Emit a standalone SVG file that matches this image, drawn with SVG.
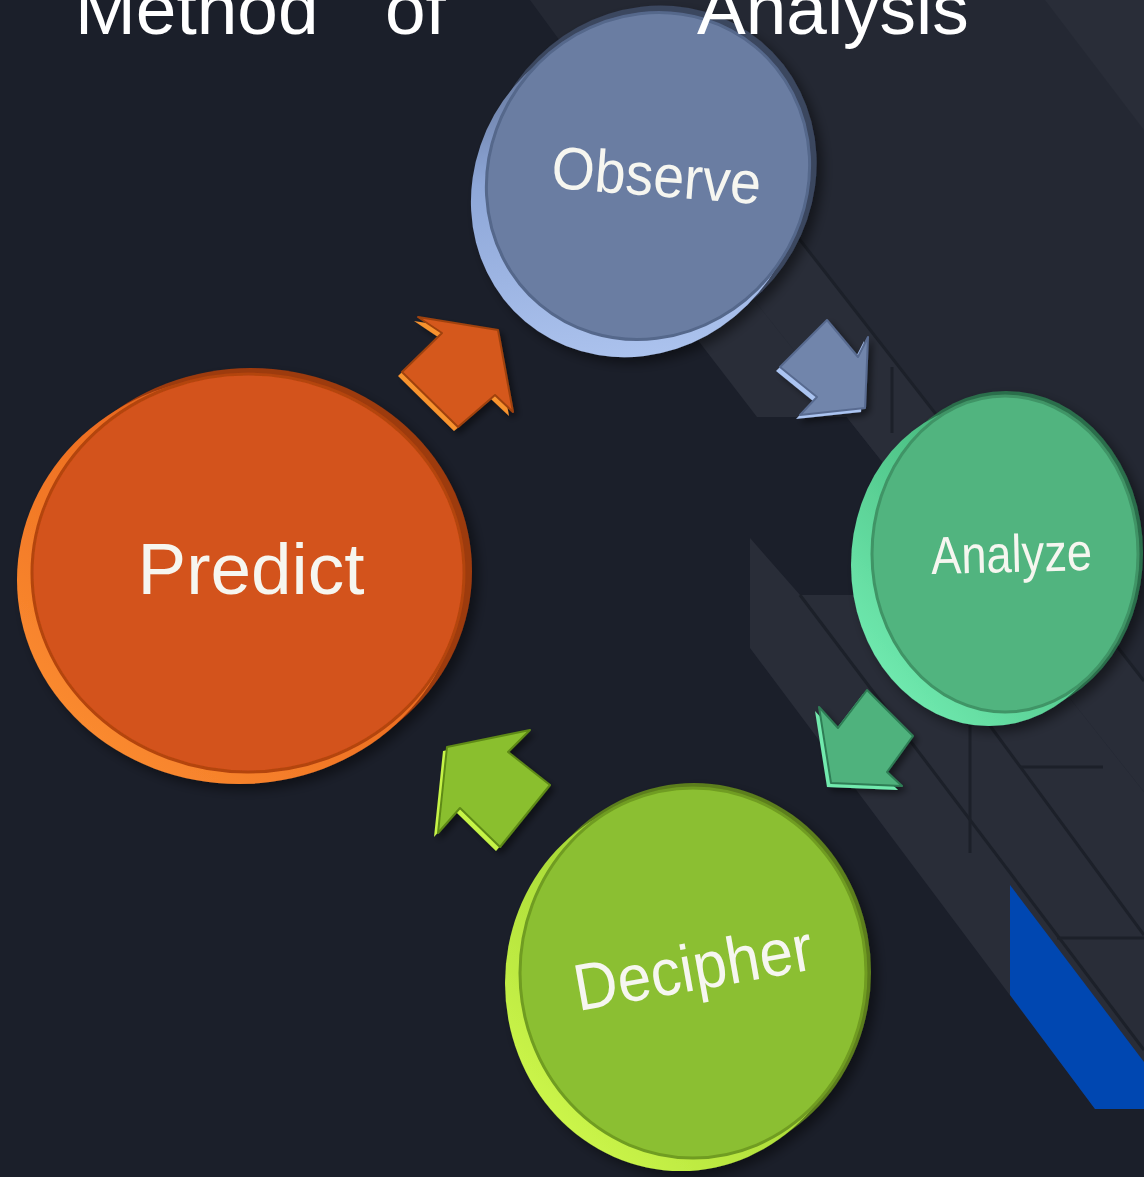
<svg xmlns="http://www.w3.org/2000/svg" width="1144" height="1177" viewBox="0 0 1144 1177">
<style>
  .title{font-family:"Liberation Sans",Arial,sans-serif;font-size:73px;fill:#ffffff}
  .lbl{font-family:"Liberation Sans",Arial,sans-serif;fill:#f6f6f0;text-anchor:middle}
  .seam{stroke:#1c2029;stroke-width:3;fill:none}
  .panel{fill:#292d38}
</style>
<defs>
  <filter id="shadow" x="-20%" y="-20%" width="140%" height="140%">
    <feDropShadow dx="6" dy="6" stdDeviation="6" flood-color="#000" flood-opacity="0.45"/>
  </filter>
  <filter id="ashadow" x="-20%" y="-20%" width="140%" height="140%">
    <feDropShadow dx="4" dy="4" stdDeviation="3" flood-color="#000" flood-opacity="0.45"/>
  </filter>
  <linearGradient id="rimObs" x1="0" y1="1" x2="1" y2="0">
    <stop offset="0" stop-color="#b6ccf5"/><stop offset="0.55" stop-color="#8ea7d8"/><stop offset="1" stop-color="#44506a"/>
  </linearGradient>
  <linearGradient id="rimAna" x1="0" y1="1" x2="1" y2="0">
    <stop offset="0" stop-color="#7af5bb"/><stop offset="0.55" stop-color="#4fc488"/><stop offset="1" stop-color="#2a6e4a"/>
  </linearGradient>
  <linearGradient id="rimDec" x1="0" y1="1" x2="1" y2="0">
    <stop offset="0" stop-color="#d8ff50"/><stop offset="0.55" stop-color="#a6d836"/><stop offset="1" stop-color="#5a7c1a"/>
  </linearGradient>
  <linearGradient id="rimPre" x1="0" y1="1" x2="1" y2="0">
    <stop offset="0" stop-color="#ff9435"/><stop offset="0.55" stop-color="#ec6c20"/><stop offset="1" stop-color="#9a380c"/>
  </linearGradient>
</defs>

<g id="background">
  <rect x="0" y="0" width="1144" height="1177" fill="#1b1f2a"/>
  <polygon points="530,0 1144,0 1144,792 700,232" fill="#242833"/>
  <polygon points="1045,0 1144,0 1144,130" fill="#292d38"/>
  <polygon class="panel" points="740,163 1144,681 1144,792 700,232"/>
  <polygon class="panel" points="667,300 757,417 847,417 754,300"/>
  <polygon class="panel" points="750,538 800,595 988,595 1144,792 1144,1109 1095,1109 750,648"/>
  <line class="seam" x1="740" y1="163" x2="1144" y2="681"/>
  <line class="seam" x1="892" y1="367" x2="892" y2="433"/>
  <line class="seam" x1="800" y1="595" x2="1144" y2="1050"/>
  <line class="seam" x1="970" y1="723" x2="970" y2="853"/>
  <line class="seam" x1="988" y1="723" x2="1144" y2="935"/>
  <line class="seam" x1="1020" y1="767" x2="1103" y2="767"/>
  <line class="seam" x1="1057" y1="938" x2="1144" y2="938"/>
  <polygon points="1010,885 1144,1062 1144,1109 1095,1109 1010,995" fill="#0047b1"/>
</g>

<g id="connectors">
  <g id="arrow-observe-analyze" filter="url(#ashadow)">
    <polygon points="827,320 858,357 868,337 865,408 800,415 817,397 780,367" fill="#abc4f1" transform="translate(-4,4)"/>
    <polygon points="827,320 858,357 868,337 865,408 800,415 817,397 780,367" fill="#7185ab" stroke="#586b90" stroke-width="2" stroke-linejoin="round"/>
  </g>
  <g id="arrow-analyze-decipher" filter="url(#ashadow)">
    <polygon points="867,690 913,736 887,772 902,786 831,783 819,707 838,728" fill="#72eaae" transform="translate(-4,4)"/>
    <polygon points="867,690 913,736 887,772 902,786 831,783 819,707 838,728" fill="#4fb27d" stroke="#2f7d55" stroke-width="2" stroke-linejoin="round"/>
  </g>
  <g id="arrow-decipher-predict" filter="url(#ashadow)">
    <polygon points="447,747 530,730 508,752 550,785 500,847 460,808 438,833" fill="#c6f447" transform="translate(-4,4)"/>
    <polygon points="447,747 530,730 508,752 550,785 500,847 460,808 438,833" fill="#8abf2f" stroke="#5e8a17" stroke-width="2" stroke-linejoin="round"/>
  </g>
  <g id="arrow-predict-observe" filter="url(#ashadow)">
    <polygon points="498,330 513,412 495,395 458,427 402,372 442,333 418,317" fill="#f8932f" transform="translate(-4,4)"/>
    <polygon points="498,330 513,412 495,395 458,427 402,372 442,333 418,317" fill="#d5581c" stroke="#a0420f" stroke-width="2" stroke-linejoin="round"/>
  </g>
</g>

<g id="node-observe" filter="url(#shadow)">
  <ellipse cx="650" cy="174" rx="173" ry="162" transform="rotate(-50 650 174)" fill="#3b465e"/>
  <ellipse cx="636" cy="190" rx="172" ry="160" transform="rotate(-50 636 190)" fill="url(#rimObs)"/>
  <ellipse cx="648" cy="176" rx="168" ry="157" transform="rotate(-50 648 176)" fill="#6a7da2" stroke="#55678b" stroke-width="3"/>
  <text class="lbl" x="655" y="196" font-size="60" textLength="210" lengthAdjust="spacingAndGlyphs" transform="rotate(4.5 655 196)">Observe</text>
</g>

<g id="node-analyze" filter="url(#shadow)">
  <ellipse cx="1006" cy="553" rx="137" ry="162" fill="#2c6e4b"/>
  <ellipse cx="989" cy="565" rx="138" ry="161" fill="url(#rimAna)"/>
  <ellipse cx="1005" cy="554" rx="133" ry="158" fill="#51b47f" stroke="#3f9466" stroke-width="3"/>
  <text class="lbl" x="1012" y="572" font-size="53" textLength="161" lengthAdjust="spacingAndGlyphs" transform="rotate(-1.5 1012 572)">Analyze</text>
</g>

<g id="node-decipher" filter="url(#shadow)">
  <ellipse cx="694" cy="972" rx="177" ry="189" fill="#5c7e1c"/>
  <ellipse cx="681" cy="983" rx="176" ry="188" fill="url(#rimDec)"/>
  <ellipse cx="693" cy="973" rx="173" ry="185" fill="#8bbf30" stroke="#6f9c22" stroke-width="3"/>
  <text class="lbl" x="697" y="990" font-size="66" textLength="241" lengthAdjust="spacingAndGlyphs" transform="rotate(-10 697 990)">Decipher</text>
</g>

<g id="node-predict" filter="url(#shadow)">
  <ellipse cx="251" cy="571" rx="221" ry="203" fill="#9d3a0e"/>
  <ellipse cx="239" cy="580" rx="222" ry="204" fill="url(#rimPre)"/>
  <ellipse cx="248" cy="573" rx="216" ry="199" fill="#d3521a" stroke="#b3440f" stroke-width="3"/>
  <text class="lbl" x="251" y="594" font-size="72" textLength="227" lengthAdjust="spacingAndGlyphs">Predict</text>
</g>

<g id="title">
  <text class="title" x="75" y="34">Method</text>
  <text class="title" x="385" y="34">of</text>
  <text class="title" x="697" y="34">Analysis</text>
</g>
</svg>
